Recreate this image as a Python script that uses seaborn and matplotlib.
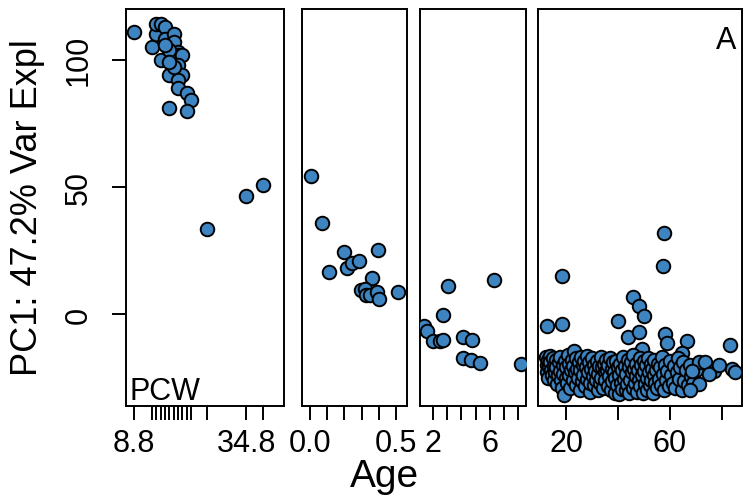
import numpy as np
import pandas as pd
import matplotlib
matplotlib.use("Agg")
import matplotlib.pyplot as plt
import seaborn as sns

# --- data ---
# panel 1: prenatal, post-conception weeks
pcw_age = [8.8, 13, 14, 14, 15, 16, 16, 15, 17, 17, 18, 18, 19, 18, 19, 20,
           19, 20, 19, 19, 21, 22, 21, 17, 18, 16, 17, 25.7, 34.8, 38.7]
pcw_pc1 = [111, 105, 110, 114, 114, 113, 108, 100, 94, 81, 110, 107, 103, 101,
           102, 102, 98, 94, 92, 89, 87, 84, 80, 104, 97, 106, 99, 33.5, 46.5, 50.8]
pcw_ticks = [8.8, 13, 14, 15, 16, 17, 18, 19, 20, 21, 22, 25.7, 34.8, 38.7]

# panel 2: infant (years)
inf_age = [0.006, 0.07, 0.11, 0.198, 0.215, 0.244, 0.285, 0.395, 0.36, 0.296,
           0.32, 0.326, 0.35, 0.39, 0.40, 0.51]
inf_pc1 = [54.3, 35.8, 16.5, 24.4, 18.1, 20.1, 20.9, 25.2, 14.2, 9.4, 9.8, 7.5,
           7.5, 8.7, 5.9, 8.7]

# panel 3: child (years)
chi_age = [1.35, 1.56, 2.0, 2.5, 2.7, 2.7, 3.05, 4.1, 4.75, 4.1, 4.68, 5.3, 6.3, 8.2]
chi_pc1 = [-4.7, -6.7, -10.6, -10.6, -10.2, -0.4, 11.0, -9.0, -10.2, -17.3,
           -18.1, -19.3, 13.4, -19.7]

# panel 4: adolescent / adult (years)
adu_age = [57.7, 57.3, 18.5, 12.7, 18.5, 40.0, 45.8, 48.1, 50.0, 43.8, 48.0,
           58.0, 58.8, 66.5, 83.0, 49.2, 64.6,
           12.3, 12.5, 12.7, 13.0, 13.2, 13.4, 13.8, 14.0, 14.3, 14.6, 15.0, 15.2, 15.5, 15.8,
           16.0, 16.3, 16.6, 16.9, 17.2, 17.5, 17.8, 18.1, 18.4, 18.7, 19.0, 19.2, 19.5, 19.8,
           20.1, 20.4, 20.7, 21.0, 21.3, 21.6, 21.9, 22.2, 22.5, 22.8, 23.1, 23.4, 23.7, 24.0,
           24.3, 24.6, 24.9,
           25.2, 25.5, 25.8, 26.1, 26.4, 26.7, 27.0, 27.3, 27.6, 27.9, 28.2, 28.5, 28.8, 29.1,
           29.4, 29.7,
           30.0, 30.3, 30.6, 30.9, 31.2, 31.5, 31.8, 32.1, 32.4, 32.7, 33.0, 33.3, 33.6, 33.9,
           34.2, 34.5, 34.8,
           35.1, 35.4, 35.7, 36.0, 36.3, 36.6, 36.9, 37.2, 37.5, 37.8, 38.1, 38.4, 38.7, 39.0,
           39.3, 39.6, 39.9,
           40.2, 40.5, 40.8, 41.1, 41.4, 41.7, 42.0, 42.3, 42.6, 42.9, 43.2, 43.5, 43.8, 44.1,
           44.4, 44.7, 45.0,
           45.3, 45.6, 45.9, 46.2, 46.5, 46.8, 47.1, 47.4, 47.7, 48.0, 48.3, 48.6, 48.9, 49.2,
           49.5, 49.8,
           50.1, 50.4, 50.7, 51.0, 51.3, 51.6, 51.9, 52.2, 52.5, 52.8, 53.1, 53.4, 53.7, 54.0,
           54.3, 54.6,
           55.0, 55.4, 55.8, 56.2, 56.6, 57.0, 57.4, 57.8, 58.2, 58.6, 59.0, 59.5, 60.0,
           60.5, 61.0, 61.5, 62.0, 62.5, 63.0, 63.5, 64.0, 64.5, 65.0, 65.5, 66.0, 67.0, 67.5,
           68.0, 69.0, 70.0,
           71.0, 73.5, 77.0, 68.5, 84.0, 85.0, 71.0, 67.7, 75.0, 79.0]
adu_pc1 = [31.9, 18.9, 15.0, -4.7, -3.9, -2.8, 6.7, 3.1, -0.8, -9.1, -7.0,
           -7.9, -11.4, -10.6, -12.2, -13.8, -15.4,
           -17, -20, -23, -18, -25, -21, -16.5, -19, -22, -24, -17.5, -20.5, -26, -23,
           -18, -21, -27.5, -24, -19, -22.5, -17, -26, -29, -20, -23.5, -32, -18.5, -25,
           -21, -27, -16, -19.5, -24, -29, -22, -18, -26, -20.5, -14.5, -23, -28, -17.5,
           -21.5, -25, -19,
           -30, -22, -17, -26.5, -20, -24, -18.5, -28.5, -21, -16.5, -25.5, -23, -19, -30.5,
           -27, -21.5,
           -17.5, -24.5, -20, -28, -22.5, -26, -18.5, -30, -23.5, -20.5, -27, -17, -25, -21,
           -29, -19.5, -23,
           -26, -18, -22, -28.5, -20, -24.5, -17.5, -30, -21.5, -26.5, -19, -23, -31, -25,
           -18.5, -28, -21,
           -24, -31.5, -19.5, -27, -22, -29.5, -17, -25.5, -20.5, -30, -23.5, -27.5, -18, -21,
           -31, -26, -19,
           -23, -29, -16, -21.5, -27, -24.5, -19.5, -30.5, -22, -26, -17.5, -28.5, -20, -24,
           -31, -18.5,
           -22.5, -27.5, -20, -25, -30, -17.5, -23, -28, -19.5, -26, -21.5, -31, -24, -18,
           -27, -22,
           -29, -19.5, -25.5, -21, -28, -17, -23.5, -30, -20, -26, -22.5, -28.5, -18.5,
           -24, -27, -20.5, -29, -23, -17.5, -25.5, -21, -30, -19, -26.5, -22, -28, -20,
           -24.5, -27, -22,
           -19, -19, -22.5, -22.5, -21.6, -23, -27.5, -30, -23.6, -20]

panels = [
    dict(x=pcw_age, y=pcw_pc1, xlim=(6.95, 43.6), ticks=pcw_ticks,
         labels=["8.8"] + [""] * 11 + ["34.8", ""]),
    dict(x=inf_age, y=inf_pc1, xlim=(-0.047, 0.564), ticks=[0, 0.1, 0.2, 0.3, 0.4, 0.5],
         labels=["0.0", "", "", "", "", "0.5"]),
    dict(x=chi_age, y=chi_pc1, xlim=(1.08, 8.55), ticks=[2, 3, 4, 5, 6, 7, 8],
         labels=["2", "", "", "", "6", "", ""]),
    dict(x=adu_age, y=adu_pc1, xlim=(9.2, 87.7), ticks=[20, 40, 60, 80],
         labels=["20", "", "60", ""]),
]

sns.set_style("white")
plt.rcParams["font.family"] = ["Liberation Sans", "DejaVu Sans"]
plt.rcParams["text.color"] = "black"
plt.rcParams["xtick.color"] = "black"
plt.rcParams["ytick.color"] = "black"
plt.rcParams["axes.labelcolor"] = "black"

W, H = 743, 502
fig = plt.figure(figsize=(W / 100, H / 100), dpi=100)
boxes = [(126, 284), (302, 407), (420, 526), (538, 742)]
top, bot = 10, 407
fill = "#3d84c1"

for i, (p, (x0, x1)) in enumerate(zip(panels, boxes)):
    ax = fig.add_axes([x0 / W, 1 - bot / H, (x1 - x0) / W, (bot - top) / H])
    df = pd.DataFrame({"age": p["x"], "pc1": p["y"]})
    sns.scatterplot(data=df, x="age", y="pc1", ax=ax, s=95, color=fill,
                    edgecolor="black", linewidth=1.4, legend=False, zorder=3)
    ax.set_xlim(*p["xlim"])
    ax.set_ylim(-36.2, 120)
    ax.set_xticks(p["ticks"])
    ax.set_xticklabels(p["labels"], fontsize=22, color="black")
    ax.tick_params(axis="x", direction="out", length=10, width=1.4, pad=6,
                   bottom=True, colors="black")
    ax.set_xlabel("")
    ax.set_ylabel("")
    for s in ax.spines.values():
        s.set_linewidth(1.4)
        s.set_color("black")
    if i == 0:
        ax.set_yticks([0, 50, 100])
        ax.set_yticklabels(["0", "50", "100"], fontsize=22, rotation=90, va="center",
                           color="black")
        ax.tick_params(axis="y", direction="out", length=10, width=1.4, pad=13,
                       left=True, colors="black")
        ax.text(0.02, 0.0, "PCW", transform=ax.transAxes, fontsize=22,
                ha="left", va="bottom", color="black")
    else:
        ax.set_yticks([])
    if i == 3:
        ax.text(0.97, 0.96, "A", transform=ax.transAxes, fontsize=22,
                ha="right", va="top", color="black")

fig.text(28 / W, 1 - 208 / H, "PC1: 47.2% Var Expl", rotation=90, fontsize=26,
         ha="center", va="center", color="black")
fig.text(384 / W, 1 - 477 / H, "Age", fontsize=28, ha="center", va="center",
         color="black")

fig.savefig("out.png", dpi=100)
